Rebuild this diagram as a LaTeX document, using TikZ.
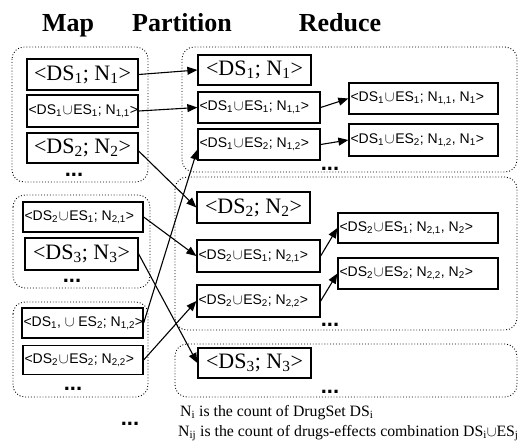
\documentclass[tikz,border=0pt]{standalone}
\usepackage{fontspec}
\setmainfont{Liberation Serif}
\setsansfont{Liberation Sans}
\usetikzlibrary{arrows.meta}
\newcommand\lft[2]{\makebox[#1pt][l]{#2}}
\newcommand\un{\kern0.8pt$\cup$\kern0.8pt}
\begin{document}
\begin{tikzpicture}[x=1pt,y=-1pt,
  grp/.style={draw, dotted, line width=0.9pt, rounded corners=12pt},
  sbox/.style={draw, line width=1.3pt, inner xsep=1.5pt, inner ysep=0pt, font=\fontsize{14}{17}\selectfont\sffamily},
  tbox/.style={draw, line width=1.3pt, inner sep=0pt, font=\fontsize{22}{26}\selectfont},
  conn/.style={line width=1.1pt, -{Triangle[length=10pt,width=8pt]}},
  dots/.style={font=\fontsize{22}{22}\selectfont\sffamily\bfseries, anchor=base, inner sep=0pt},
  ttl/.style={font=\fontsize{26}{30}\selectfont\bfseries, anchor=base, inner sep=0pt},
  note/.style={font=\fontsize{15.8}{17}\selectfont, anchor=base west, inner sep=0pt}
]
\useasboundingbox (0,0) rectangle (521,444);

% titles
\node[ttl] (tmap) at (68,32) {Map};
\node[ttl] (tpart) at (182,32) {Partition};
\node[ttl] (tred) at (340,32) {Reduce};

% groups
\draw[grp] (12,47) rectangle (148,182);
\draw[grp] (13,195) rectangle (150,288);
\draw[grp] (13,302) rectangle (148,397);
\draw[grp] (182,47) rectangle (517,172);
\draw[grp] (175,177) rectangle (517,330);
\draw[grp] (175,344) rectangle (517,397);

% map boxes
\node[tbox, minimum width=111pt, minimum height=31pt] (L1) at (82.5,74.5) {<DS\textsubscript{1}; N\textsubscript{1}>};
\node[sbox, minimum height=32pt] (L2) at (82.5,111) {\lft{108}{<DS\textsubscript{1}\un ES\textsubscript{1}; N\textsubscript{1,1}>}};
\node[tbox, minimum width=111pt, minimum height=30pt] (L3) at (82.5,148) {<DS\textsubscript{2}; N\textsubscript{2}>};
\node[dots] (d1) at (74,176) {...};

\node[sbox, minimum height=30pt] (L4) at (83,217) {\lft{117}{<DS\textsubscript{2}\un ES\textsubscript{1}; N\textsubscript{2,1}>}};
\node[tbox, minimum width=113pt, minimum height=32pt] (L5) at (81.5,254) {<DS\textsubscript{3}; N\textsubscript{3}>};
\node[dots] (d2) at (72,282) {...};

\node[sbox, minimum height=30pt] (L6) at (82.5,323) {\lft{118}{<DS\textsubscript{1}, $\cup$ ES\textsubscript{2}; N\textsubscript{1,2}>}};
\node[sbox, minimum height=29pt] (L7) at (83,360) {\lft{117}{<DS\textsubscript{2}\un ES\textsubscript{2}; N\textsubscript{2,2}>}};
\node[dots] (d3) at (73,390) {...};

\node[dots] (d4) at (130,425) {...};

% reduce boxes, group 1
\node[tbox, minimum width=113pt, minimum height=30pt] (R1) at (254.5,70) {<DS\textsubscript{1}; N\textsubscript{1}>};
\node[sbox, minimum height=31pt] (R2) at (259,107.5) {\lft{119}{<DS\textsubscript{1}\un ES\textsubscript{1}; N\textsubscript{1,1}>}};
\node[sbox, minimum height=31pt] (R3) at (259,144.5) {\lft{119}{<DS\textsubscript{1}\un ES\textsubscript{2}; N\textsubscript{1,2}>}};
\node[sbox, minimum height=31pt] (R5) at (423.5,98.5) {\lft{146}{<DS\textsubscript{1}\un ES\textsubscript{1}; N\textsubscript{1,1}, N\textsubscript{1}>}};
\node[sbox, minimum height=32pt] (R6) at (423.5,140) {\lft{146}{<DS\textsubscript{1}\un ES\textsubscript{2}; N\textsubscript{1,2}, N\textsubscript{1}>}};
\node[dots] (d5) at (330,170) {...};

% group 2
\node[tbox, minimum width=113pt, minimum height=31pt] (R4) at (253.5,207.5) {<DS\textsubscript{2}; N\textsubscript{2}>};
\node[sbox, minimum height=32pt] (R7) at (258.5,256) {\lft{120}{<DS\textsubscript{2}\un ES\textsubscript{1}; N\textsubscript{2,1}>}};
\node[sbox, minimum height=32pt] (R8) at (258.5,301) {\lft{120}{<DS\textsubscript{2}\un ES\textsubscript{2}; N\textsubscript{2,2}>}};
\node[sbox, minimum height=30pt] (R10) at (418,228) {\lft{157}{<DS\textsubscript{2}\un ES\textsubscript{1}; N\textsubscript{2,1}, N\textsubscript{2}>}};
\node[sbox, minimum height=31pt] (R11) at (418,273.5) {\lft{157}{<DS\textsubscript{2}\un ES\textsubscript{2}; N\textsubscript{2,2}, N\textsubscript{2}>}};
\node[dots] (d6) at (330,326) {...};

% group 3
\node[tbox, minimum width=113pt, minimum height=30pt] (R9) at (254.5,363) {<DS\textsubscript{3}; N\textsubscript{3}>};
\node[dots] (d7) at (330,393) {...};

% connectors
\draw[conn] (L1.east) -- (R1.west);
\draw[conn] (L2.east) -- (R2.west);
\draw[conn] ([yshift=-3pt]L3.east) -- (R4.west);
\draw[conn] (L4.east) -- (R7.west);
\draw[conn] (L5.east) -- (R9.west);
\draw[conn] (L6.east) -- ([yshift=-5pt]R3.west);
\draw[conn] (L7.east) -- (R8.west);
\draw[conn] (R2.east) -- (R5.west);
\draw[conn] (R3.east) -- (R6.west);
\draw[conn] (R7.east) -- (R10.west);
\draw[conn] (R8.east) -- (R11.west);

% notes
\node[note] (n1) at (180,416) {N\textsubscript{i} is the count of DrugSet DS\textsubscript{i}};
\node[note] (n2) at (178,436) {N\textsubscript{ij} is the count of drugs-effects combination DS\textsubscript{i}$\cup$ES\textsubscript{j}};
\end{tikzpicture}
\end{document}
